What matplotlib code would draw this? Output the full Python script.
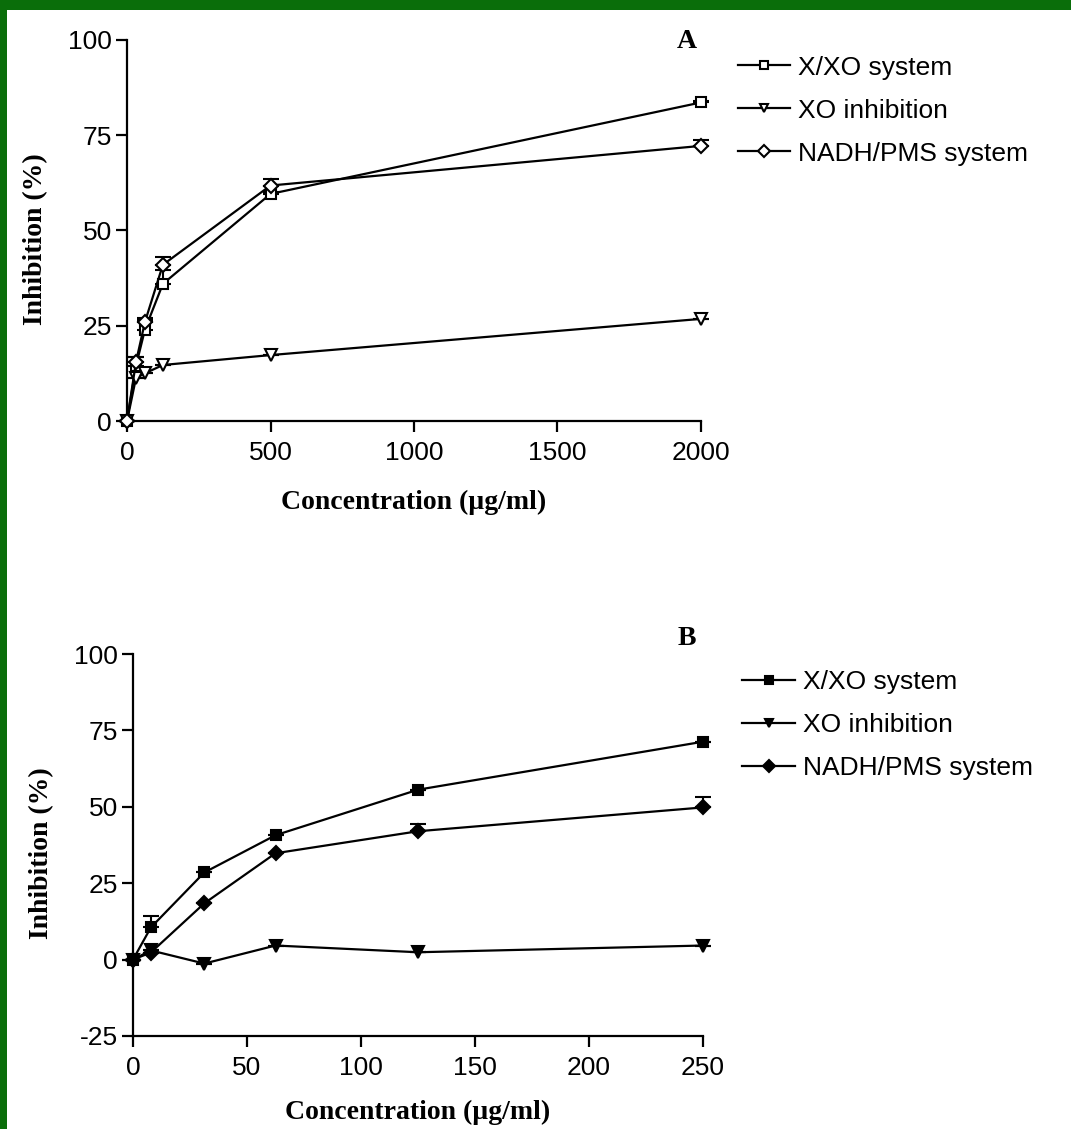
import numpy as np
import matplotlib.pyplot as plt
from matplotlib.patches import Rectangle

plt.rcParams['axes.unicode_minus'] = False

# concentrações (µg/ml)
conc_a = [0, 31.25, 62.5, 125, 500, 2000]
conc_b = [0, 7.8125, 31.25, 62.5, 125, 250]

# painel A - extrato
xxo_a = [0, 14.5, 24.0, 36.0, 59.6, 83.6]
xxo_a_err = [0, 2.2, 2.5, 3.5, 0.5, 0.5]
xo_a = [0, 11.3, 12.5, 14.7, 17.3, 26.8]
xo_a_err = [0, 0, 0, 0, 0, 0]
nadh_a = [0, 15.5, 26.0, 41.0, 61.8, 72.2]
nadh_a_err = [0, 1.2, 1.0, 2.0, 1.7, 1.5]

# painel B
xxo_b = [0, 10.5, 28.5, 40.7, 55.6, 71.3]
xxo_b_err = [0, 3.7, 0, 0, 0, 0]
xo_b = [0, 3.0, -1.3, 4.6, 2.4, 4.6]
xo_b_err = [0, 0, 0, 0, 0, 0]
nadh_b = [0, 2.3, 18.4, 34.8, 42.0, 49.8]
nadh_b_err = [0, 0, 0, 0, 2.5, 3.3]

legendas = ['X/XO system', 'XO inhibition', 'NADH/PMS system']
yticks = [0, 25, 50, 75, 100]

fig = plt.figure(figsize=(10.71, 11.29), dpi=100)

# moldura verde (topo e esquerda)
fig.patches.append(Rectangle((0, 1 - 10 / 1129), 1, 10 / 1129, transform=fig.transFigure,
                             facecolor='#0a6e0a', edgecolor='none'))
fig.patches.append(Rectangle((0, 0), 7 / 1071, 1, transform=fig.transFigure,
                             facecolor='#0a6e0a', edgecolor='none'))

fonte_num = 'Liberation Sans'
fonte_rot = 'Liberation Serif'
tamanhos = {'s': 7.5, 'v': 9, 'D': 7}


def desenha(ax, x, series, erros, marcadores, preenchido, xlim, ylim, xticks, yt,
            letra, pos_letra, pos_leg, pad_x):
    linhas = []
    for y, e, m in zip(series, erros, marcadores):
        e = np.array(e)
        ax.errorbar(x, y, yerr=[np.zeros_like(e), e], fmt='none', ecolor='black',
                    elinewidth=1.5, capsize=6, capthick=1.5, clip_on=False, zorder=2)
        l, = ax.plot(x, y, color='black', lw=1.6, marker=m, ms=tamanhos[m],
                     mfc='black' if preenchido else 'white', mec='black', mew=1.5,
                     clip_on=False, zorder=3)
        linhas.append(l)
    ax.set_xlim(*xlim)
    ax.set_ylim(*ylim)
    ax.set_xticks(xticks)
    ax.set_yticks(yt)
    for s in ['top', 'right']:
        ax.spines[s].set_visible(False)
    for s in ['left', 'bottom']:
        ax.spines[s].set_linewidth(1.6)
    ax.tick_params(direction='out', length=8, width=1.6, labelsize=19, pad=3)
    ax.tick_params(axis='x', pad=6.5)
    for t in ax.get_xticklabels() + ax.get_yticklabels():
        t.set_fontfamily(fonte_num)
    ax.set_xlabel('Concentration (µg/ml)', fontfamily=fonte_rot, fontweight='bold',
                  fontsize=20, labelpad=pad_x)
    ax.set_ylabel('Inhibition (%)', fontfamily=fonte_rot, fontweight='bold',
                  fontsize=20, labelpad=14, y=0.478)
    ax.text(pos_letra[0], pos_letra[1], letra, transform=ax.transAxes, ha='center',
            va='center', fontfamily=fonte_rot, fontweight='bold', fontsize=20)
    leg = ax.legend(linhas, legendas, loc='upper left', bbox_to_anchor=pos_leg,
                    frameon=False, handlelength=2.0, handletextpad=0.3,
                    labelspacing=0.72, borderpad=0, borderaxespad=0,
                    prop={'family': fonte_num, 'size': 19})
    for h in leg.legend_handles:
        h.set_markersize(6)
    return ax


ax_a = fig.add_axes([0.1186, 0.6271, 0.5359, 0.3375])
desenha(ax_a, conc_a, [xxo_a, xo_a, nadh_a], [xxo_a_err, xo_a_err, nadh_a_err],
        ['s', 'v', 'D'], False, (0, 2000), (0, 100), [0, 500, 1000, 1500, 2000], yticks,
        'A', (0.976, 0.995), (1.064, 0.959), 18)

ax_b = fig.add_axes([0.1242, 0.0824, 0.5322, 0.3383])
desenha(ax_b, conc_b, [xxo_b, xo_b, nadh_b], [xxo_b_err, xo_b_err, nadh_b_err],
        ['s', 'v', 'D'], True, (0, 250), (-25, 100), [0, 50, 100, 150, 200, 250],
        [-25] + yticks, 'B', (0.972, 1.04), (1.069, 0.957), 14)

plt.savefig('out.png', dpi=100, facecolor='white')
